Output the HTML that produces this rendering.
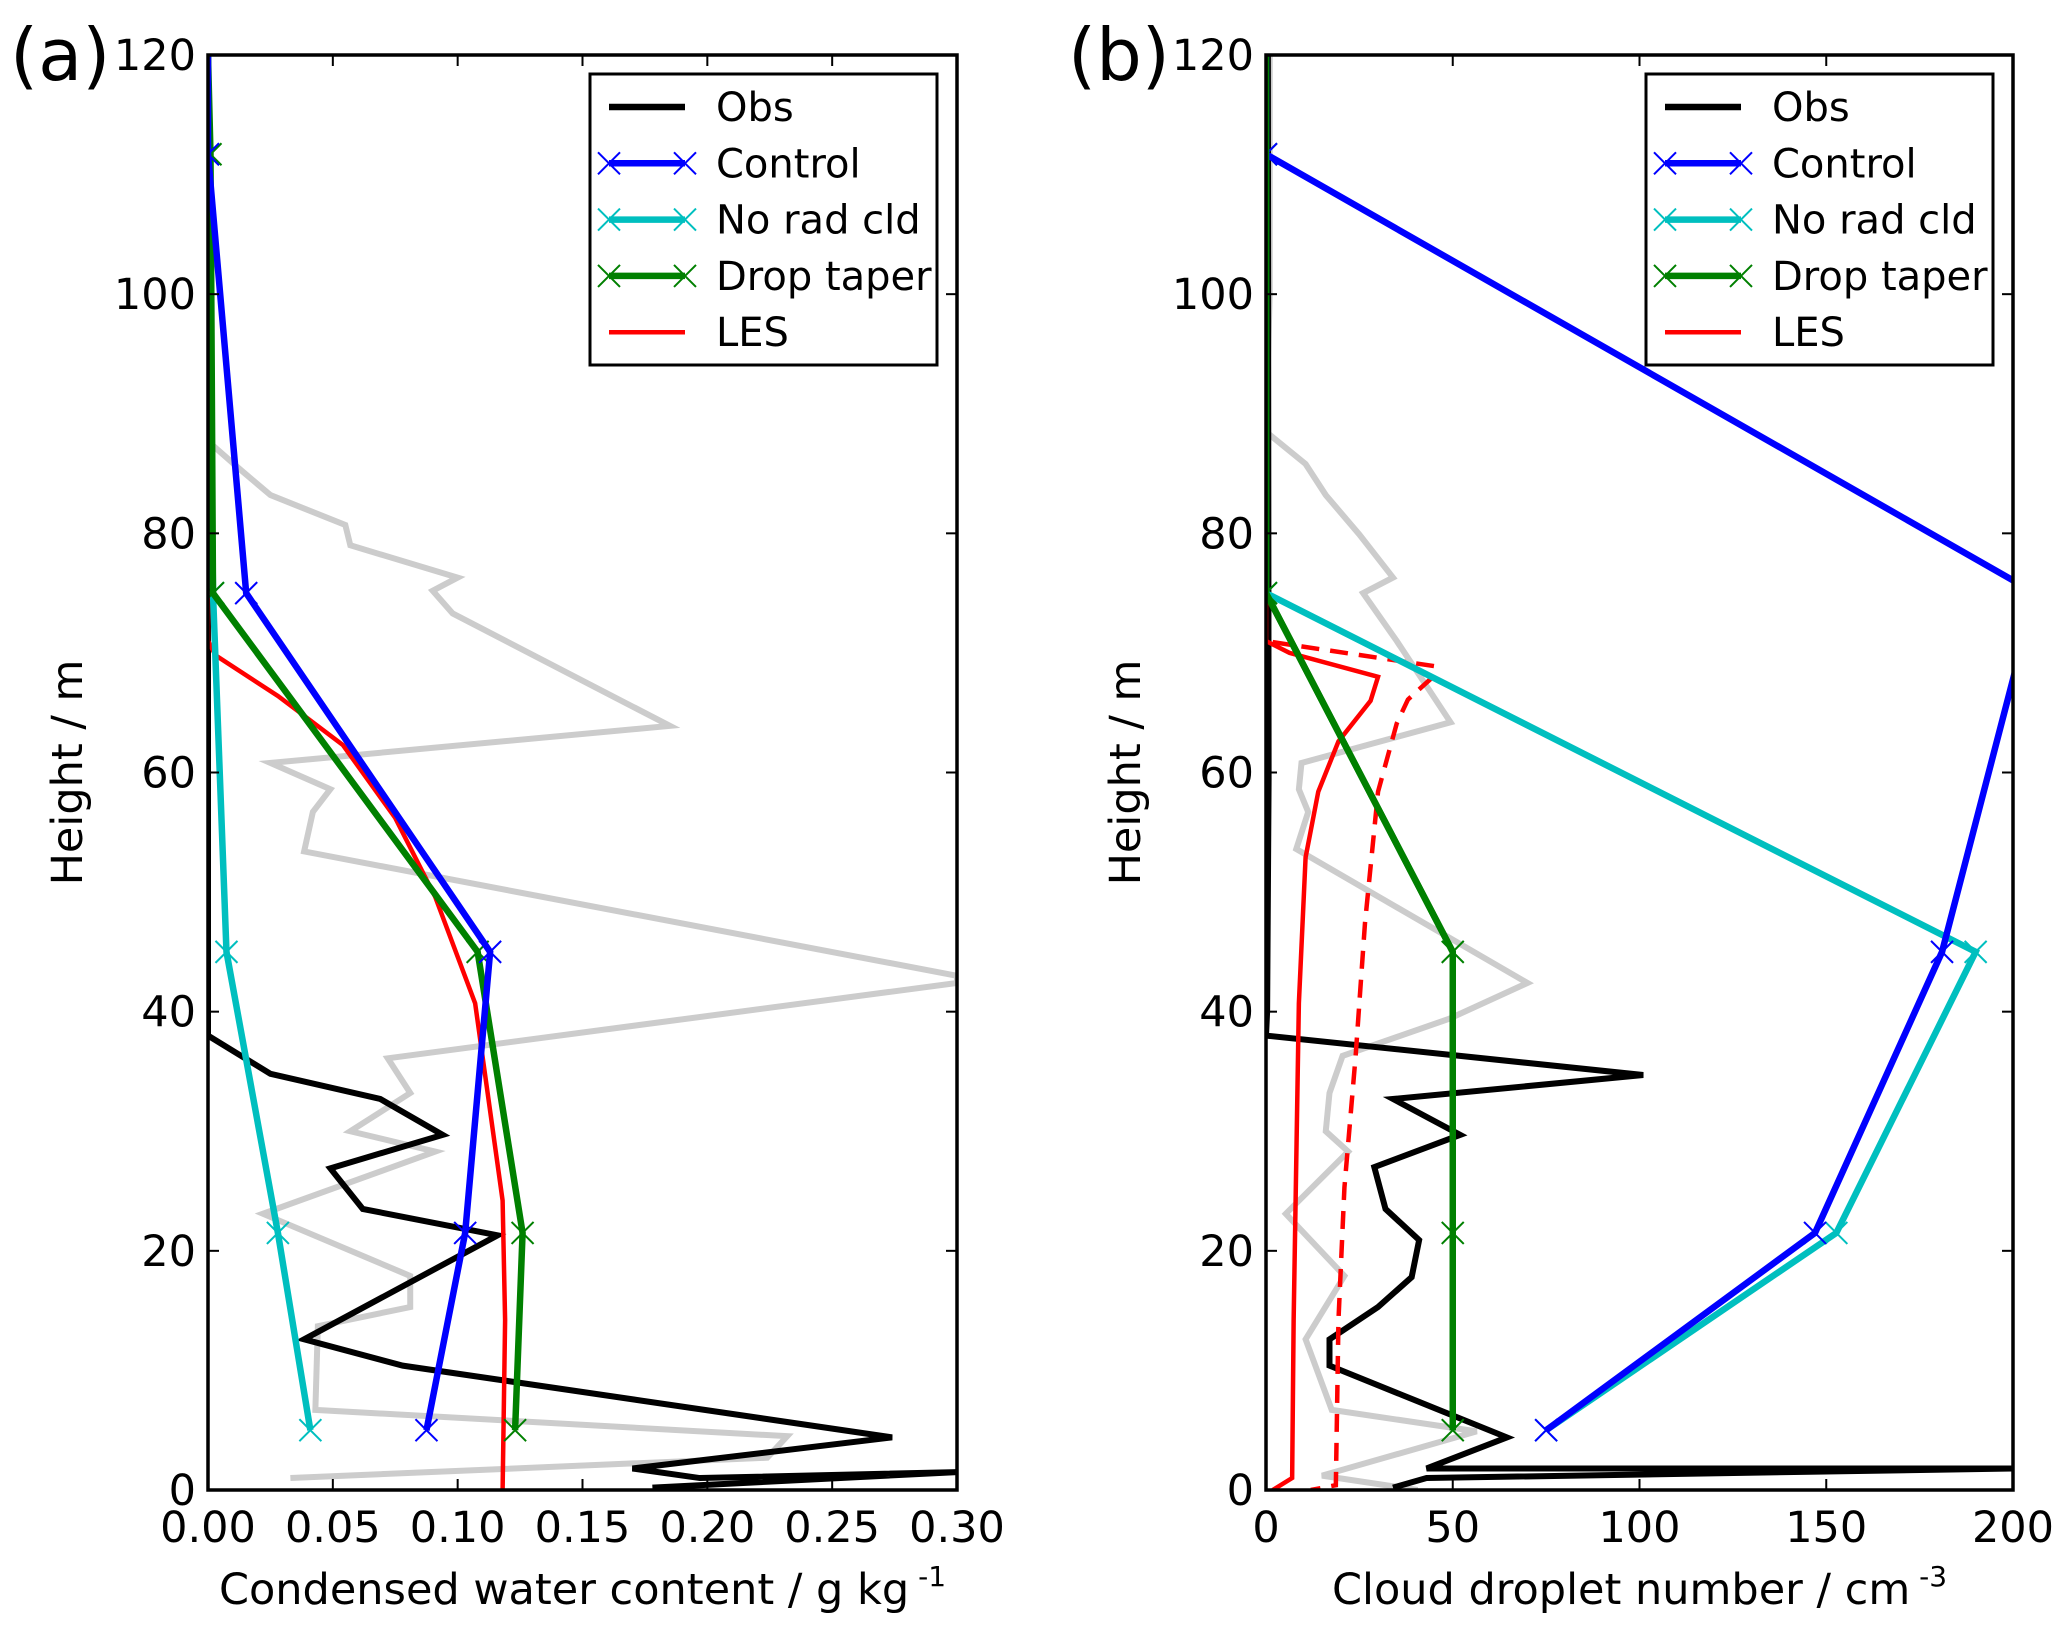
<!DOCTYPE html>
<html><head><meta charset="utf-8"><style>
body{margin:0;background:#fff}
svg{display:block;font-family:"DejaVu Sans","Liberation Sans",sans-serif}
</style></head><body>
<svg id="fig" width="2067" height="1625" viewBox="0 0 2067 1625" xmlns="http://www.w3.org/2000/svg"></svg>
<script>
// ---------- Panel (a) data: [value, height] ----------
const aObs=[[0,120],[0,38],[0.025,34.8],[0.069,32.7],[0.094,29.7],[0.049,26.9],[0.062,23.5],[0.116,21.3],[0.0385,12.6],[0.078,10.4],[0.274,4.4],[0.170,1.8],[0.197,1.0],[0.3,1.5],[0.178,0.2]];
const aGrey=[[0,87.7],[0.012,85.5],[0.025,83.2],[0.055,80.7],[0.057,79],[0.1,76.3],[0.09,75.2],[0.098,73.3],[0.185,63.9],[0.025,60.8],[0.049,58.6],[0.042,56.7],[0.0385,53.4],[0.3,43],[0.3,42.4],[0.072,36.1],[0.081,33.2],[0.057,30],[0.091,28.3],[0.022,23.1],[0.081,17.9],[0.081,15.3],[0.044,13.7],[0.043,6.7],[0.232,4.5],[0.224,2.7],[0.033,1.0]];
const aControl=[[0,120],[0,111.7],[0.0153,75],[0.113,45],[0.103,21.5],[0.0875,5]];
const aNoRad=[[0,120],[0,111.7],[0.002,75],[0.0074,45],[0.028,21.5],[0.041,5]];
const aTaper=[[0,120],[0.001,111.7],[0.002,75],[0.108,45],[0.126,21.5],[0.123,5]];
const aLES=[[0,120],[0,71],[0.003,69.8],[0.028,66.4],[0.054,62.3],[0.075,56.2],[0.091,49.6],[0.107,40.7],[0.118,24.2],[0.119,14.2],[0.118,0]];
const aXTicks=["0.00","0.05","0.10","0.15","0.20","0.25","0.30"];
// ---------- Panel (b) data ----------
const bObs=[[0.5,120],[0.7,59.5],[0.3,40],[0,38],[101,34.7],[34,32.7],[52,29.7],[29,27],[32,23.5],[41,20.9],[39,17.8],[30,15.3],[17,12.6],[17,10.4],[64.5,4.4],[43,1.8],[200,1.8],[43,1.0],[34,0.2]];
const bGrey=[[1,120],[1,100],[0,88.5],[10.6,85.8],[16,83.2],[25,79.9],[34,76.3],[26,75],[35,71],[49.4,64.2],[9.5,60.8],[8.8,58.6],[11.3,56.7],[8.1,53.6],[70,42.4],[49,39.4],[20.5,36.3],[17,33.2],[16,30],[22,28.3],[5.3,23.1],[21,17.9],[10.6,12.6],[17.6,6.7],[56.4,4.9],[15,1.2],[40.6,0]];
const bControl=[[0,120],[0,111.7],[206,75],[181,45],[147,21.5],[75,5]];
const bNoRad=[[0,120],[0,111.7],[0,75],[190,45],[152.7,21.5],[75,5]];
const bTaper=[[0,120],[0,111.7],[0,75],[50,45],[50,21.5],[50,5]];
const bLES=[[0,120],[0,71],[6.3,70],[30,68],[28,66],[19.4,62.6],[14,58.4],[10.6,52.9],[8.8,40.7],[7.4,14.2],[7,1],[1.8,0]];
const bLESd=[[1.8,70.9],[45,68.9],[44,67.8],[38,66.1],[35,64.1],[30,58.4],[26.5,47.4],[24,36.3],[21,25.3],[19.4,14.2],[18.7,0.4],[12,0]];
const bXTicks=["0","50","100","150","200"];
const yTicks=[0,20,40,60,80,100,120];

const NS="http://www.w3.org/2000/svg";
const svg=document.getElementById('fig');
function el(tag,attrs,parent){const e=document.createElementNS(NS,tag);for(const k in attrs)e.setAttribute(k,attrs[k]);(parent||svg).appendChild(e);return e;}

function panel(opt){
  const {L,R,T,B,xmax,label,xlabel,xsup,id}=opt;
  const sx=v=>L+v/xmax*(R-L), sy=h=>B-h/120*(B-T);
  const g=el('g',{});
  
  
  const cp=el('clipPath',{id:'clip'+id},g);
  el('rect',{x:L,y:T,width:R-L,height:B-T},cp);
  const plot=el('g',{'clip-path':'url(#clip'+id+')'},g);
  function line(data,color,w,name,dash,markers){
    const p=el('polyline',{points:data.map(d=>sx(d[0])+','+sy(d[1])).join(' '),fill:'none',stroke:color,'stroke-width':w,'stroke-linejoin':'miter'},plot);
    if(dash)p.setAttribute('stroke-dasharray',dash);
    
    
    if(markers){data.slice(1).forEach(d=>{const x=sx(d[0]),y=sy(d[1]),s=11;
      const m=el('path',{d:`M${x-s},${y-s}L${x+s},${y+s}M${x-s},${y+s}L${x+s},${y-s}`,stroke:color,'stroke-width':2},plot);
      
      });}
  }
  line(opt.grey,'#cccccc',6,'obs-range-line');
  line(opt.obs,'#000',6,'obs-line');
  line(opt.les,'#ff0000',4.5,'les-line');
  if(opt.lesd)line(opt.lesd,'#ff0000',4.5,'les-dashed-line','18,11');
  line(opt.noRad,'#00bfbf',6.5,'no-rad-cld-line',null,true);
  line(opt.taper,'#008000',6.5,'drop-taper-line',null,true);
  line(opt.control,'#0000ff',6.5,'control-line',null,true);
  if(id==='b'){line(opt.taper,'#008000',6.5,'drop-taper-line');}
  const fr=el('rect',{x:L,y:T,width:R-L,height:B-T,fill:'none',stroke:'#000','stroke-width':3.5},g);
  
  
  const xt=opt.xt;
  xt.forEach((t,i)=>{const x=sx(i*xmax/(xt.length-1));
    el('line',{x1:x,y1:B,x2:x,y2:B-11,stroke:'#000','stroke-width':2},g);
    el('line',{x1:x,y1:T,x2:x,y2:T+11,stroke:'#000','stroke-width':2},g);
    const tx=el('text',{x:x,y:B+52,'text-anchor':'middle','font-size':43},g);tx.textContent=t;
    
    });
  yTicks.forEach(t=>{const y=sy(t);
    el('line',{x1:L,y1:y,x2:L+11,y2:y,stroke:'#000','stroke-width':2},g);
    el('line',{x1:R,y1:y,x2:R-11,y2:y,stroke:'#000','stroke-width':2},g);
    const tx=el('text',{x:L-12,y:y+15,'text-anchor':'end','font-size':43},g);tx.textContent=t;
    
    });
  const yl=el('text',{x:0,y:0,transform:`translate(${L-126},${(T+B)/2}) rotate(-90)`,'text-anchor':'middle','font-size':43},g);
  yl.textContent='Height / m';
  
  
  const xl=el('text',{x:(L+R)/2,y:1604,'text-anchor':'middle','font-size':43},g);
  xl.textContent=xlabel;
  const sup=el('tspan',{'font-size':28,dy:-18},xl);sup.textContent=xsup;
  
  
  const pl=el('text',{x:L-198,y:80,'font-size':72},g);pl.textContent=label;
  
  
  const lg=el('g',{},g);
  
  
  const lx=opt.legX;
  el('rect',{x:lx,y:74,width:347,height:291,fill:'#fff',stroke:'#000','stroke-width':3},lg);
  const ents=[['Obs','#000',null,false],['Control','#0000ff',null,true],['No rad cld','#00bfbf',null,true],['Drop taper','#008000',null,true],['LES','#ff0000',null,false]];
  ents.forEach((e,i)=>{const y=107+i*56.3;
    const eg=el('g',{},lg);
    
    
    el('line',{x1:lx+19,y1:y,x2:lx+95,y2:y,stroke:e[1],'stroke-width':i==4?4.5:6.5},eg);
    if(e[3]){[lx+19,lx+95].forEach(x=>el('path',{d:`M${x-11},${y-11}L${x+11},${y+11}M${x-11},${y+11}L${x+11},${y-11}`,stroke:e[1],'stroke-width':2},eg));}
    const t=el('text',{x:lx+126,y:y+14,'font-size':40},eg);t.textContent=e[0];});
}
panel({id:'a',L:208,R:957,T:55,B:1490,xmax:0.3,label:'(a)',xlabel:'Condensed water content / g kg',xsup:' -1',
  grey:aGrey,obs:aObs,control:aControl,noRad:aNoRad,taper:aTaper,les:aLES,xt:aXTicks,legX:590});
panel({id:'b',L:1266,R:2013,T:55,B:1490,xmax:200,label:'(b)',xlabel:'Cloud droplet number / cm',xsup:' -3',
  grey:bGrey,obs:bObs,control:bControl,noRad:bNoRad,taper:bTaper,les:bLES,lesd:bLESd,xt:bXTicks,legX:1646});
</script>
</body></html>
